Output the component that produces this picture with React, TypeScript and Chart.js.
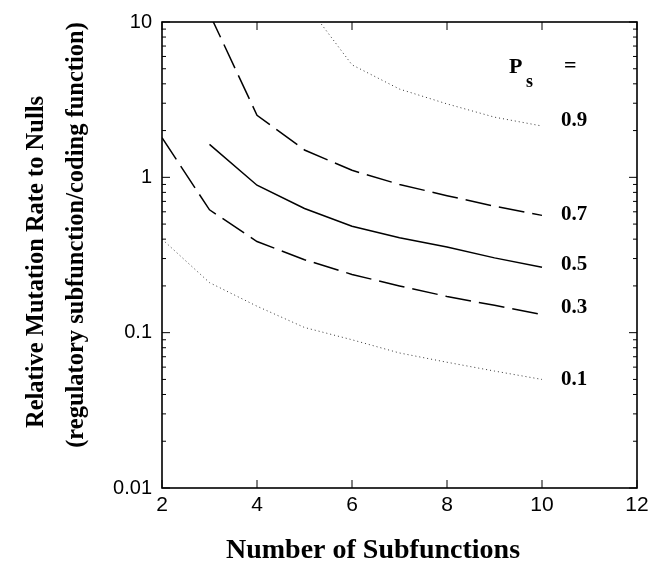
import React, { useEffect, useRef } from "react";
import { Chart, registerables } from "chart.js";

Chart.register(...registerables);

const subfunctions = [2, 3, 4, 5, 6, 7, 8, 9, 10];
const ps09 = [null, null, null, 13.5, 5.3, 3.7, 2.97, 2.44, 2.14];
const ps07 = [null, 11.3, 2.51, 1.5, 1.11, 0.9, 0.762, 0.652, 0.569];
const ps05 = [null, 1.63, 0.89, 0.63, 0.484, 0.409, 0.356, 0.303, 0.264];
const ps03 = [1.8, 0.618, 0.386, 0.295, 0.237, 0.2, 0.171, 0.15, 0.131];
const ps01 = [0.4, 0.21, 0.148, 0.108, 0.09, 0.074, 0.0645, 0.0566, 0.05];
const seriesLabels = ["0.9", "0.7", "0.5", "0.3", "0.1"];
const yTickValues = [0.01, 0.1, 1, 10];
const yTickLabels = ["0.01", "0.1", "1", "10"];
const xTickValues = [2, 4, 6, 8, 10, 12];
const xTitle = "Number of Subfunctions";
const yTitleLines = ["Relative Mutation Rate to Nulls", "(regulatory subfunction/coding function)"];

const SERIF = "'Liberation Serif', 'Times New Roman', serif";
const SANS = "'Liberation Sans', Arial, sans-serif";
const LABEL_DY = [-5, -1, -3, -7, 0];

const framePlugin = {
  id: "framePlugin",
  afterDraw(chart: any) {
    const { ctx, chartArea, scales } = chart;
    const { left, right, top, bottom } = chartArea;
    const ys = scales.y;
    const xs = scales.x;
    ctx.save();
    ctx.strokeStyle = "#000";
    ctx.lineWidth = 1.6;
    ctx.strokeRect(left, top, right - left, bottom - top);
    ctx.lineWidth = 1;
    for (let i = 0; i < yTickValues.length; i++) {
      const d = yTickValues[i];
      for (let m = 1; m <= 9; m++) {
        const v = d * m;
        if (v > 10.0001) continue;
        const py = ys.getPixelForValue(v);
        const len = m === 1 ? 8 : 4;
        ctx.beginPath();
        ctx.moveTo(left, py);
        ctx.lineTo(left + len, py);
        ctx.moveTo(right, py);
        ctx.lineTo(right - len, py);
        ctx.stroke();
      }
    }
    for (const v of xTickValues) {
      const px = xs.getPixelForValue(v);
      ctx.beginPath();
      ctx.moveTo(px, bottom);
      ctx.lineTo(px, bottom - 8);
      ctx.moveTo(px, top);
      ctx.lineTo(px, top + 8);
      ctx.stroke();
    }
    // series labels
    ctx.fillStyle = "#000";
    ctx.textBaseline = "middle";
    ctx.textAlign = "left";
    ctx.font = "bold 21px " + SERIF;
    let firstLabel: any = null;
    chart.data.datasets.forEach((ds: any, i: number) => {
      const meta = chart.getDatasetMeta(i);
      let last = -1;
      ds.data.forEach((v: any, j: number) => {
        if (v !== null) last = j;
      });
      if (last < 0) return;
      const pt = meta.data[last];
      const lx = pt.x + 19;
      const ly = pt.y + LABEL_DY[i];
      ctx.fillText(seriesLabels[i], lx, ly);
      if (i === 0) firstLabel = { x: lx, y: ly };
    });
    if (firstLabel) {
      ctx.font = "bold 22px " + SERIF;
      ctx.fillText("P", firstLabel.x - 52, firstLabel.y - 54);
      ctx.font = "bold 18px " + SERIF;
      ctx.fillText("s", firstLabel.x - 35, firstLabel.y - 39);
      ctx.font = "bold 22px " + SERIF;
      ctx.fillText("=", firstLabel.x + 3, firstLabel.y - 55);
    }
    // axis titles
    ctx.textAlign = "center";
    ctx.textBaseline = "alphabetic";
    ctx.font = "bold 28px " + SERIF;
    ctx.fillText(xTitle, 373, 558);
    ctx.font = "bold 24.5px " + SERIF;
    ctx.textBaseline = "middle";
    const yCenters = [262, 235];
    const xCenters = [37, 77];
    yTitleLines.forEach((t, i) => {
      ctx.save();
      ctx.translate(xCenters[i], yCenters[i]);
      ctx.rotate(-Math.PI / 2);
      ctx.fillText(t, 0, 0);
      ctx.restore();
    });
    ctx.restore();
  },
};

export default function App() {
  const ref = useRef<HTMLCanvasElement | null>(null);
  useEffect(() => {
    document.body.style.margin = "0";
    const canvas = ref.current;
    if (!canvas) return;
    const line = (data: (number | null)[], dash: number[], width: number, color: string) => ({
      data,
      borderColor: color,
      borderWidth: width,
      borderDash: dash,
      pointRadius: 0,
      tension: 0,
      fill: false,
      spanGaps: false,
    });
    const chart = new Chart(canvas, {
      type: "line",
      data: {
        labels: subfunctions,
        datasets: [
          line(ps09, [1, 3], 1, "#333"),
          line(ps07, [26, 8], 1.5, "#000"),
          line(ps05, [], 1.5, "#000"),
          line(ps03, [26, 8], 1.5, "#000"),
          line(ps01, [1, 3], 1, "#333"),
        ].map((d, i) => ({ ...d, label: seriesLabels[i] })),
      },
      options: {
        animation: false,
        responsive: false,
        devicePixelRatio: 1,
        layout: { padding: { left: 0, right: 28, top: 15, bottom: 0 } },
        plugins: { legend: { display: false }, tooltip: { enabled: false } },
        scales: {
          x: {
            type: "linear",
            min: 2,
            max: 12,
            afterFit: (s: any) => {
              s.height = 76;
            },
            afterBuildTicks: (s: any) => {
              s.ticks = xTickValues.map((v) => ({ value: v }));
            },
            ticks: {
              color: "#000",
              font: { family: SANS, size: 21 },
              padding: 5,
              maxRotation: 0,
              autoSkip: false,
            },
            grid: { display: false, drawTicks: false },
            border: { display: false },
            title: { display: false },
          },
          y: {
            type: "logarithmic",
            min: 0.01,
            max: 10,
            afterFit: (s: any) => {
              s.width = 162;
            },
            afterBuildTicks: (s: any) => {
              s.ticks = yTickValues.map((v) => ({ value: v }));
            },
            ticks: {
              color: "#000",
              font: { family: SANS, size: 20 },
              padding: 10,
              autoSkip: false,
              callback: (v: any) => {
                const idx = yTickValues.findIndex((t) => Math.abs(t - Number(v)) < 1e-9);
                return idx >= 0 ? yTickLabels[idx] : "";
              },
            },
            grid: { display: false, drawTicks: false },
            border: { display: false },
            title: { display: false },
          },
        },
      },
      plugins: [framePlugin],
    } as any);
    return () => chart.destroy();
  }, []);
  return (
    <div style={{ width: 665, height: 564, background: "#fff" }}>
      <canvas ref={ref} width={665} height={564} style={{ display: "block" }} />
    </div>
  );
}
